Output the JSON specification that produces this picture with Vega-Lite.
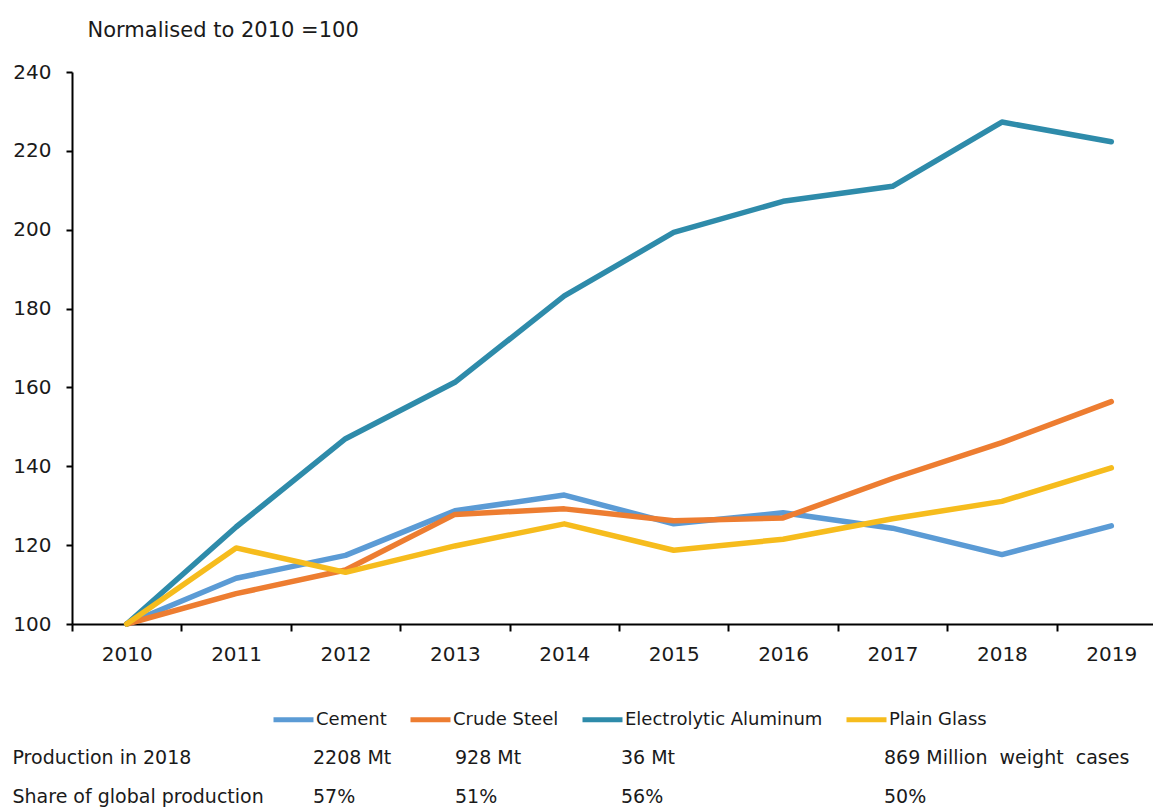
{
  "$schema": "https://vega.github.io/schema/vega-lite/v6.json",
  "padding": {"left": 12, "top": 19, "right": 0, "bottom": 0},
  "background": "white",
  "config": {"view": {"stroke": null}, "font": "DejaVu Sans"},
  "datasets": {
    "series": [
      {"year": 2010, "product": "Cement", "value": 100},
      {"year": 2011, "product": "Cement", "value": 111.6},
      {"year": 2012, "product": "Cement", "value": 117.4},
      {"year": 2013, "product": "Cement", "value": 128.7},
      {"year": 2014, "product": "Cement", "value": 132.7},
      {"year": 2015, "product": "Cement", "value": 125.4},
      {"year": 2016, "product": "Cement", "value": 128.2},
      {"year": 2017, "product": "Cement", "value": 124.3},
      {"year": 2018, "product": "Cement", "value": 117.6},
      {"year": 2019, "product": "Cement", "value": 124.9},
      {"year": 2010, "product": "Crude Steel", "value": 100},
      {"year": 2011, "product": "Crude Steel", "value": 107.7},
      {"year": 2012, "product": "Crude Steel", "value": 113.7},
      {"year": 2013, "product": "Crude Steel", "value": 127.8},
      {"year": 2014, "product": "Crude Steel", "value": 129.2},
      {"year": 2015, "product": "Crude Steel", "value": 126.2},
      {"year": 2016, "product": "Crude Steel", "value": 126.9},
      {"year": 2017, "product": "Crude Steel", "value": 136.9},
      {"year": 2018, "product": "Crude Steel", "value": 146.0},
      {"year": 2019, "product": "Crude Steel", "value": 156.4},
      {"year": 2010, "product": "Electrolytic Aluminum", "value": 100},
      {"year": 2011, "product": "Electrolytic Aluminum", "value": 124.6},
      {"year": 2012, "product": "Electrolytic Aluminum", "value": 147.0},
      {"year": 2013, "product": "Electrolytic Aluminum", "value": 161.3},
      {"year": 2014, "product": "Electrolytic Aluminum", "value": 183.2},
      {"year": 2015, "product": "Electrolytic Aluminum", "value": 199.3},
      {"year": 2016, "product": "Electrolytic Aluminum", "value": 207.2},
      {"year": 2017, "product": "Electrolytic Aluminum", "value": 211.0},
      {"year": 2018, "product": "Electrolytic Aluminum", "value": 227.3},
      {"year": 2019, "product": "Electrolytic Aluminum", "value": 222.3},
      {"year": 2010, "product": "Plain Glass", "value": 100},
      {"year": 2011, "product": "Plain Glass", "value": 119.3},
      {"year": 2012, "product": "Plain Glass", "value": 113.1},
      {"year": 2013, "product": "Plain Glass", "value": 119.8},
      {"year": 2014, "product": "Plain Glass", "value": 125.4},
      {"year": 2015, "product": "Plain Glass", "value": 118.7},
      {"year": 2016, "product": "Plain Glass", "value": 121.5},
      {"year": 2017, "product": "Plain Glass", "value": 126.7},
      {"year": 2018, "product": "Plain Glass", "value": 131.1},
      {"year": 2019, "product": "Plain Glass", "value": 139.6}
    ],
    "table": [
      {"col": "Cement", "row": "Production in 2018", "text": "2208 Mt"},
      {"col": "Cement", "row": "Share of global production", "text": "57%"},
      {"col": "Crude Steel", "row": "Production in 2018", "text": "928 Mt"},
      {"col": "Crude Steel", "row": "Share of global production", "text": "51%"},
      {"col": "Electrolytic Aluminum", "row": "Production in 2018", "text": "36 Mt"},
      {"col": "Electrolytic Aluminum", "row": "Share of global production", "text": "56%"},
      {"col": "Plain Glass", "row": "Production in 2018", "text": "869 Million\u00a0 weight\u00a0 cases"},
      {"col": "Plain Glass", "row": "Share of global production", "text": "50%"}
    ]
  },
  "vconcat": [
    {
      "width": 1094,
      "height": 552,
      "data": {"name": "series"},
      "mark": {"type": "line", "strokeWidth": 5.5, "strokeCap": "round", "strokeJoin": "round"},
      "encoding": {
        "x": {
          "field": "year", "type": "ordinal", "bandPosition": 0.5,
          "scale": {"type": "band", "paddingInner": 0, "paddingOuter": 0},
          "axis": {
            "title": null, "labelAngle": 0, "labelFontSize": 20, "labelColor": "#1a1a1a",
            "tickBand": "extent", "tickSize": 7, "tickWidth": 2, "tickColor": "#000",
            "domainWidth": 2, "domainColor": "#000", "labelPadding": 13, "grid": false
          }
        },
        "y": {
          "field": "value", "type": "quantitative",
          "scale": {"domain": [100, 240], "nice": false, "zero": false},
          "axis": {
            "values": [100, 120, 140, 160, 180, 200, 220, 240],
            "title": "Normalised to 2010 =100", "titleAngle": 0, "titleAlign": "left",
            "titleBaseline": "middle", "titleX": 15, "titleY": -42, "titleFontSize": 21,
            "titleFontWeight": "normal", "titleColor": "#1a1a1a",
            "labelFontSize": 20, "labelColor": "#1a1a1a", "labelPadding": 15,
            "tickSize": 6, "tickWidth": 2, "tickColor": "#000",
            "domainWidth": 2, "domainColor": "#000", "grid": false
          }
        },
        "color": {
          "field": "product", "type": "nominal",
          "scale": {
            "domain": ["Cement", "Crude Steel", "Electrolytic Aluminum", "Plain Glass"],
            "range": ["#5B9BD5", "#ED7D31", "#2E8BAA", "#F6BC1D"]
          },
          "legend": {
            "title": null, "orient": "none", "legendX": 199, "legendY": 625,
            "direction": "horizontal", "symbolType": "stroke", "symbolStrokeWidth": 5,
            "symbolSize": 1600, "labelFontSize": 18, "labelColor": "#1a1a1a",
            "labelOffset": 0, "columnPadding": 13, "labelLimit": 400
          }
        }
      }
    },
    {
      "data": {"name": "table"},
      "spacing": 0,
      "hconcat": [
        {
          "width": 241, "height": 78,
          "transform": [{"filter": "datum.col === 'Cement'"}],
          "mark": {"type": "text"},
          "encoding": {
            "y": {
              "field": "row", "type": "nominal", "sort": null,
              "scale": {"type": "band", "paddingInner": 0, "paddingOuter": 0},
              "axis": {
                "title": null, "domain": false, "ticks": false, "grid": false,
                "labelAlign": "left", "labelPadding": 60, "labelFontSize": 19,
                "labelColor": "#1a1a1a", "labelLimit": 300
              }
            },
            "text": {"value": ""}
          }
        },
        {
          "width": 142, "height": 78,
          "transform": [{"filter": "datum.col === 'Cement'"}],
          "mark": {"type": "text", "align": "left", "baseline": "middle", "fontSize": 19, "color": "#1a1a1a"},
          "encoding": {
            "x": {"field": "col", "type": "nominal", "axis": null, "scale": {"type": "point", "padding": 0, "align": 0}},
            "y": {"field": "row", "type": "nominal", "sort": null, "axis": null, "scale": {"type": "band", "paddingInner": 0, "paddingOuter": 0}},
            "text": {"field": "text"}
          }
        },
        {
          "width": 166, "height": 78,
          "transform": [{"filter": "datum.col === 'Crude Steel'"}],
          "mark": {"type": "text", "align": "left", "baseline": "middle", "fontSize": 19, "color": "#1a1a1a"},
          "encoding": {
            "x": {"field": "col", "type": "nominal", "axis": null, "scale": {"type": "point", "padding": 0, "align": 0}},
            "y": {"field": "row", "type": "nominal", "sort": null, "axis": null, "scale": {"type": "band", "paddingInner": 0, "paddingOuter": 0}},
            "text": {"field": "text"}
          }
        },
        {
          "width": 263, "height": 78,
          "transform": [{"filter": "datum.col === 'Electrolytic Aluminum'"}],
          "mark": {"type": "text", "align": "left", "baseline": "middle", "fontSize": 19, "color": "#1a1a1a"},
          "encoding": {
            "x": {"field": "col", "type": "nominal", "axis": null, "scale": {"type": "point", "padding": 0, "align": 0}},
            "y": {"field": "row", "type": "nominal", "sort": null, "axis": null, "scale": {"type": "band", "paddingInner": 0, "paddingOuter": 0}},
            "text": {"field": "text"}
          }
        },
        {
          "width": 250, "height": 78,
          "transform": [{"filter": "datum.col === 'Plain Glass'"}],
          "mark": {"type": "text", "align": "left", "baseline": "middle", "fontSize": 19, "color": "#1a1a1a"},
          "encoding": {
            "x": {"field": "col", "type": "nominal", "axis": null, "scale": {"type": "point", "padding": 0, "align": 0}},
            "y": {"field": "row", "type": "nominal", "sort": null, "axis": null, "scale": {"type": "band", "paddingInner": 0, "paddingOuter": 0}},
            "text": {"field": "text"}
          }
        }
      ]
    }
  ],
  "spacing": 8,
  "resolve": {"scale": {"color": "independent"}, "legend": {"color": "independent"}}
}
